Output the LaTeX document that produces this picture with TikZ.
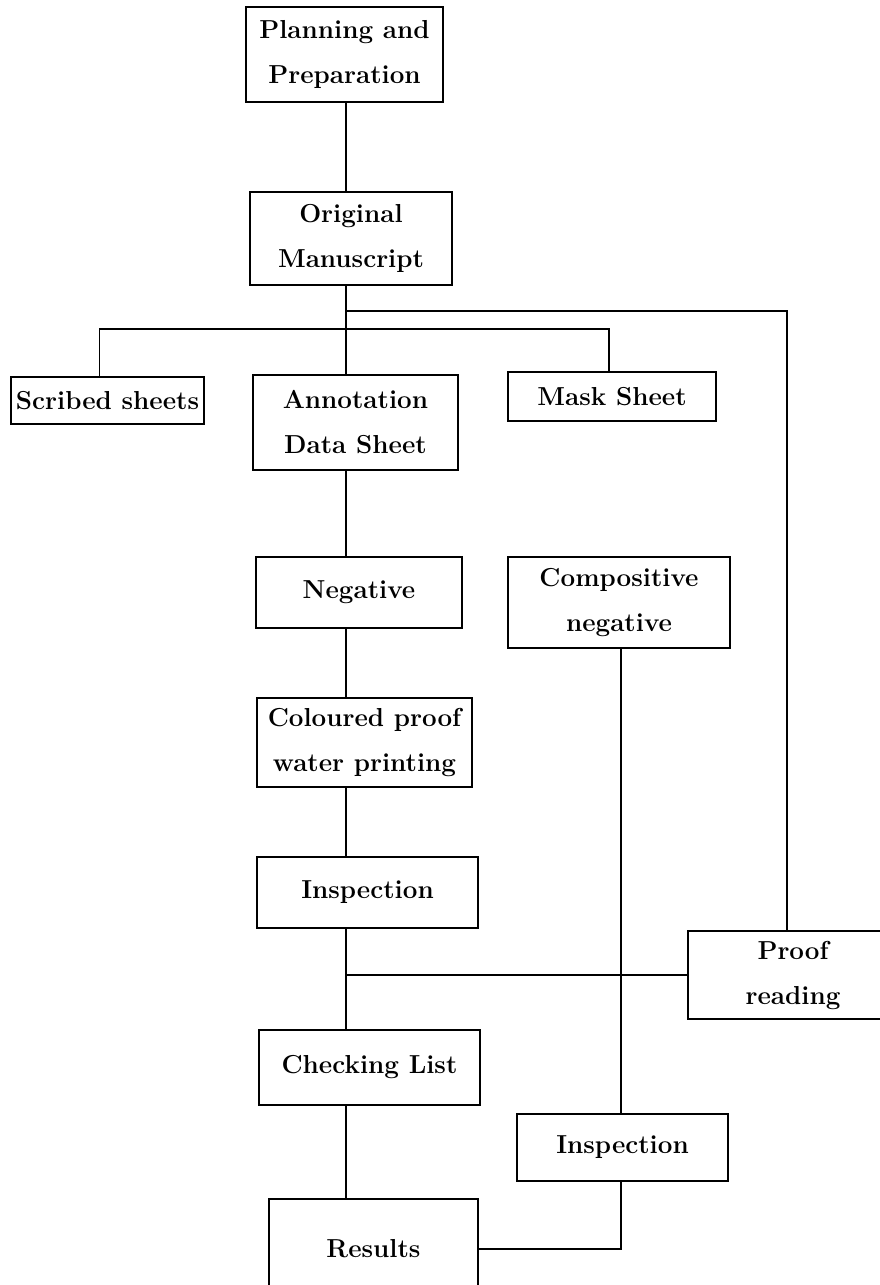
\documentclass[tikz,border=0pt]{standalone}
\usepackage{fontspec}
\begin{document}
\begin{tikzpicture}[x=1pt,y=-1pt,
  box/.style={draw, line width=1.6pt, inner sep=2pt, align=center,
    font=\fontsize{26}{45}\selectfont\bfseries},
  link/.style={line width=2pt},
  branch/.style={line width=1.4pt}]
  \useasboundingbox (0,0) rectangle (880,1285);
  \node[box, minimum width=197, minimum height=95] (plan) at (344.5,54.5) {Planning and\\Preparation};
  \node[box, minimum width=202, minimum height=93] (orig) at (351,238.5) {Original\\Manuscript};
  \node[box, minimum width=193, minimum height=47] (scribed) at (107.5,400.5) {Scribed sheets};
  \node[box, minimum width=205, minimum height=95] (annot) at (355.5,422.5) {Annotation\\Data Sheet};
  \node[box, minimum width=208, minimum height=49] (mask) at (612,396.5) {Mask Sheet};
  \node[box, minimum width=206, minimum height=71] (neg) at (359,592.5) {Negative};
  \node[box, minimum width=222, minimum height=91] (comp) at (619,602.5) {Compositive\\negative};
  \node[box, minimum width=215, minimum height=89] (col) at (364.5,742.5) {Coloured proof\\water printing};
  \node[box, minimum width=221, minimum height=71] (insp) at (367.5,892.5) {Inspection};
  \node[box, minimum width=210, minimum height=88] (proof) at (793,975) {Proof\\reading};
  \node[box, minimum width=221, minimum height=75] (check) at (369.5,1067.5) {Checking List};
  \node[box, minimum width=211, minimum height=67] (insp2) at (622.5,1147.5) {Inspection};
  \node[box, minimum width=209, minimum height=100] (results) at (373.5,1249) {Results};
  % line positions
  \coordinate (spine) at (346,0);
  \coordinate (side) at (621,0);
  \coordinate (split) at (346,311);
  \coordinate (fork) at (346,329);
  \draw[link] (plan.south -| spine) -- (orig.north -| spine);
  \draw[link] (orig.south -| spine) -- (annot.north -| spine);
  \draw[branch] (split) -| ([xshift=-6]proof.north);
  \draw[branch] ([xshift=-8]scribed.north) |- (fork) -| ([xshift=-3]mask.north);
  \draw[link] (annot.south -| spine) -- (neg.north -| spine);
  \draw[link] (neg.south -| spine) -- (col.north -| spine);
  \draw[link] (col.south -| spine) -- (insp.north -| spine);
  \draw[link] (insp.south -| spine) -- (check.north -| spine);
  \draw[link] (check.south -| spine) -- (results.north -| spine);
  \draw[branch] (proof.west) -- (proof.west -| spine);
  \draw[link] (comp.south -| side) -- (insp2.north -| side);
  \draw[link] (insp2.south -| side) |- (results.east);
\end{tikzpicture}
\end{document}
